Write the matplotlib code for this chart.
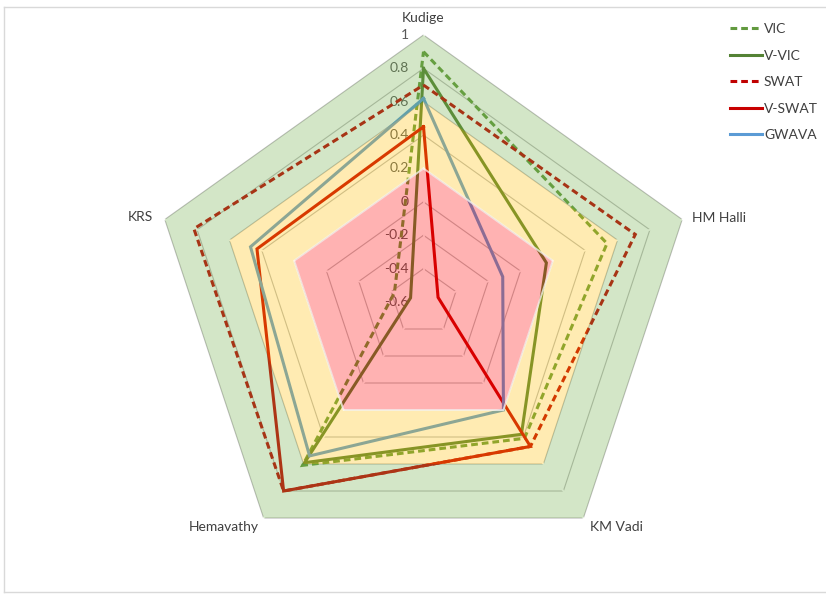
import numpy as np
import matplotlib
matplotlib.use("Agg")
import matplotlib.pyplot as plt
from matplotlib.lines import Line2D
from matplotlib.path import Path
from matplotlib.patches import PathPatch

# ---- data -------------------------------------------------------------
categories = ["Kudige", "HM Halli", "KM Vadi", "Hemavathy", "KRS"]
vic    = [0.90, 0.535, 0.41, 0.61, -0.42]
v_vic  = [0.80, 0.16, 0.38, 0.59, -0.52]
swat   = [0.70, 0.71, 0.47, 0.80, 0.82]
v_swat = [0.45, -0.51, 0.47, 0.80, 0.43]
gwava  = [0.62, -0.11, 0.20, 0.54, 0.47]

series_names = ["VIC", "V-VIC", "SWAT", "V-SWAT", "GWAVA"]
series_values = [vic, v_vic, swat, v_swat, gwava]
series_colors = ["#629A3F", "#548235", "#C00000", "#C80000", "#5B9BD5"]
series_dashed = [True, False, True, False, False]

tick_values = [-0.6, -0.4, -0.2, 0, 0.2, 0.4, 0.6, 0.8, 1]
tick_labels = ["-0.6", "-0.4", "-0.2", "0", "0.2", "0.4", "0.6", "0.8", "1"]

# performance bands (poor / fair / good)
band_edges = [-0.6, 0.2, 0.6, 1.0]
band_colors = ["#FF0000", "#FFC000", "#70AD47"]

# ---- figure -----------------------------------------------------------
W, H = 826, 597
fig = plt.figure(figsize=(W / 100, H / 100), dpi=100)
plt.rcParams["font.family"] = ["Lato", "DejaVu Sans"]

cx, cy, rx, ry = 423.5, 302.0, 272.0, 267.0
ax = fig.add_axes([(cx - rx) / W, (H - cy - ry) / H, 2 * rx / W, 2 * ry / H],
                  projection="polar")
ax.set_aspect("auto")
ax.set_theta_zero_location("N")
ax.set_theta_direction(-1)
ax.set_ylim(-0.6, 1.0)
ax.grid(False)
ax.set_xticks([])
ax.set_yticks([])
ax.spines["polar"].set_visible(False)
ax.patch.set_alpha(0)

n = len(categories)
angles = np.arange(n) * 2 * np.pi / n
closed = np.append(angles, angles[0])

# ring gridlines
for lvl in tick_values[1:]:
    ax.plot(closed, [lvl] * (n + 1), color="#BDBDBD", lw=0.8, zorder=1,
            clip_on=False)

# radial spokes
for a in angles:
    ax.plot([a, a], [-0.6, 1.0], color="white", lw=1.3, zorder=1.2,
            clip_on=False)

# axis value labels along the top spoke
for v, lab in zip(tick_values, tick_labels):
    ax.annotate(lab, xy=(0, v), xytext=(-15, 0), textcoords="offset pixels",
                ha="right", va="center", fontsize=10, color="#595959",
                zorder=1.5)

# model series
for name, vals, col, dsh in zip(series_names, series_values, series_colors,
                                series_dashed):
    r = list(vals) + [vals[0]]
    ls = (0, (2.2, 1.3)) if dsh else "-"
    ax.plot(closed, r, color=col, lw=2.2, ls=ls, zorder=2, clip_on=False,
            solid_joinstyle="miter", dash_joinstyle="miter")

# translucent performance bands laid over the lines
for (r0, r1), col in zip(zip(band_edges[:-1], band_edges[1:]), band_colors):
    outer = [(a, r1) for a in angles]
    inner = [(a, r0) for a in angles[::-1]]
    verts = outer + [outer[0]] + inner + [inner[0]]
    codes = ([Path.MOVETO] + [Path.LINETO] * (n - 1) + [Path.CLOSEPOLY]) * 2
    patch = PathPatch(Path(verts, codes), facecolor=col, edgecolor="none",
                      alpha=0.3, transform=ax.transData, zorder=3,
                      clip_on=False)
    ax.add_patch(patch)

# soft highlight on the edge of the poor band
ax.plot(closed, [band_edges[1]] * (n + 1), color="white", lw=1.4, alpha=0.7,
        zorder=3.5, clip_on=False)

# category labels around the pentagon
label_offsets = {
    "Kudige": (0, 17, "center"),
    "HM Halli": (10, 1, "left"),
    "KM Vadi": (7, -9, "left"),
    "Hemavathy": (-5, -9, "right"),
    "KRS": (-12, 2, "right"),
}
for a, cat in zip(angles, categories):
    dx, dy, ha = label_offsets[cat]
    ax.annotate(cat, xy=(a, 1.0), xytext=(dx, dy), textcoords="offset pixels",
                ha=ha, va="center", fontsize=10, color="#404040", zorder=5,
                annotation_clip=False)

# legend
handles = [Line2D([], [], color=c, lw=2.2, ls=((0, (2.2, 1.3)) if d else "-"))
           for c, d in zip(series_colors, series_dashed)]
fig.legend(handles, series_names, loc="upper left",
           bbox_to_anchor=(730 / W, 1 - 23 / H), frameon=False, fontsize=10,
           labelspacing=1.05, handlelength=2.3, handletextpad=0.15,
           borderpad=0, borderaxespad=0, labelcolor="#404040")

# chart frame
frame_kw = dict(color="#D9D9D9", lw=1.0, transform=fig.transFigure)
fig.add_artist(Line2D([4 / W, 1], [1 - 7 / H, 1 - 7 / H], **frame_kw))
fig.add_artist(Line2D([4 / W, 4 / W], [1 - 7 / H, 1 - 592 / H], **frame_kw))
fig.add_artist(Line2D([4 / W, 1], [1 - 592 / H, 1 - 592 / H], **frame_kw))

fig.savefig("out.png", dpi=100, facecolor="white")
